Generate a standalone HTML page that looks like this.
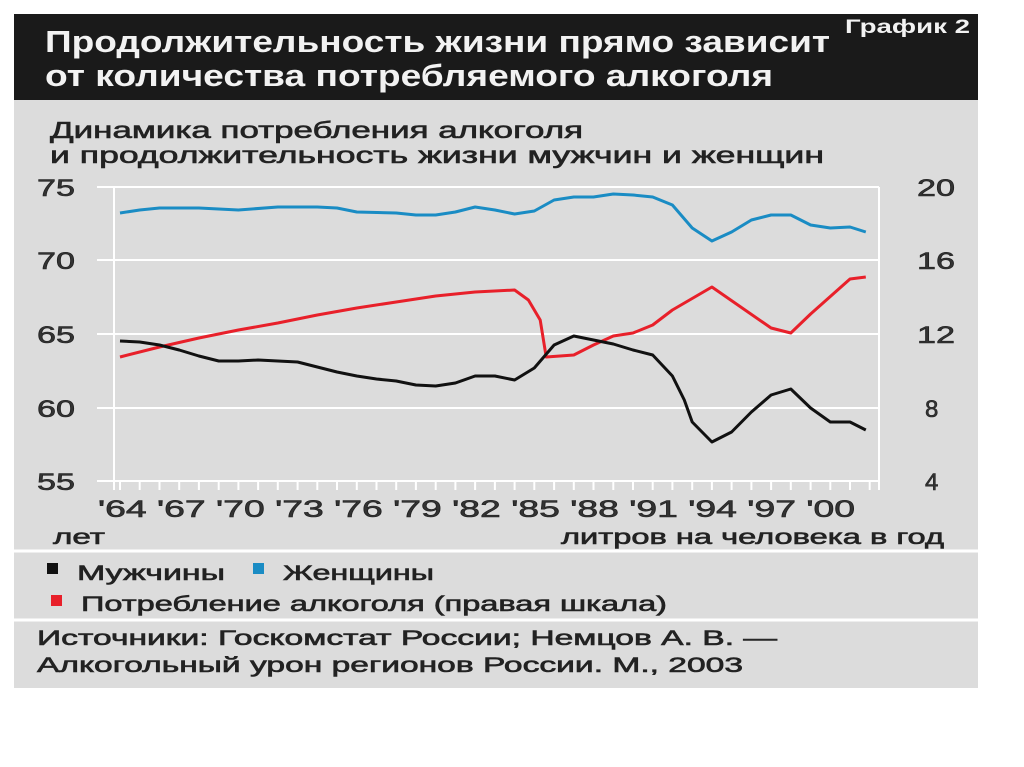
<!DOCTYPE html>
<html><head><meta charset="utf-8">
<style>
html,body{margin:0;padding:0;background:#fff;width:1024px;height:767px;overflow:hidden}
svg{display:block}
text{font-family:"Liberation Sans","DejaVu Sans",sans-serif}
.m{stroke:#222;stroke-width:0.6}
</style></head><body>
<svg id="s" width="1024" height="767" viewBox="0 0 1024 767" xmlns="http://www.w3.org/2000/svg">
<rect x="0" y="0" width="1024" height="767" fill="#fff"/>
<rect x="14" y="14" width="964" height="674" fill="#dcdcdc"/>
<rect x="14" y="14" width="964" height="86" fill="#1a1a1a"/>
<text x="45" y="52" font-size="31" font-weight="bold" fill="#f2f2f2" textLength="785" lengthAdjust="spacingAndGlyphs">Продолжительность жизни прямо зависит</text>
<text x="45" y="86" font-size="31" font-weight="bold" fill="#f2f2f2" textLength="728" lengthAdjust="spacingAndGlyphs">от количества потребляемого алкоголя</text>
<text x="845" y="33" font-size="19" font-weight="bold" fill="#f2f2f2" textLength="125" lengthAdjust="spacingAndGlyphs">График 2</text>
<g class="m">
<text x="50" y="138" font-size="23" fill="#222" textLength="533" lengthAdjust="spacingAndGlyphs">Динамика потребления алкоголя</text>
<text x="50" y="163" font-size="23" fill="#222" textLength="774" lengthAdjust="spacingAndGlyphs">и продолжительность жизни мужчин и женщин</text>
</g>
<g stroke="#fff" stroke-width="2">
<line x1="97" y1="187" x2="879" y2="187"/>
<line x1="97" y1="260" x2="879" y2="260"/>
<line x1="97" y1="334" x2="879" y2="334"/>
<line x1="97" y1="408" x2="879" y2="408"/>
<line x1="97" y1="481" x2="879" y2="481"/>
<line x1="114" y1="187" x2="114" y2="490"/>
<line x1="879" y1="187" x2="879" y2="490"/>
</g>
<g id="ticks" stroke="#fff" stroke-width="2"></g>
<g font-size="24" fill="#333" class="m">
<text x="37" y="196" textLength="38" lengthAdjust="spacingAndGlyphs">75</text>
<text x="37" y="269" textLength="38" lengthAdjust="spacingAndGlyphs">70</text>
<text x="37" y="343" textLength="38" lengthAdjust="spacingAndGlyphs">65</text>
<text x="37" y="417" textLength="38" lengthAdjust="spacingAndGlyphs">60</text>
<text x="37" y="490" textLength="38" lengthAdjust="spacingAndGlyphs">55</text>
<text x="917" y="196" textLength="38" lengthAdjust="spacingAndGlyphs">20</text>
<text x="917" y="269" textLength="38" lengthAdjust="spacingAndGlyphs">16</text>
<text x="917" y="343" textLength="38" lengthAdjust="spacingAndGlyphs">12</text>
<text x="925" y="417">8</text>
<text x="925" y="490">4</text>
<text x="98" y="517" textLength="757" lengthAdjust="spacingAndGlyphs">'64 '67 '70 '73 '76 '79 '82 '85 '88 '91 '94 '97 '00</text>
</g>
<g font-size="21" fill="#222" class="m">
<text x="53" y="544" textLength="52" lengthAdjust="spacingAndGlyphs">лет</text>
<text x="561" y="544" textLength="383" lengthAdjust="spacingAndGlyphs">литров на человека в год</text>
</g>
<line x1="14" y1="551" x2="978" y2="551" stroke="#fff" stroke-width="3"/>
<line x1="14" y1="620" x2="978" y2="620" stroke="#fff" stroke-width="3"/>
<rect x="47" y="563" width="11" height="11" fill="#111"/>
<rect x="253" y="563" width="11" height="11" fill="#1a8cc4"/>
<rect x="51" y="595" width="11" height="11" fill="#e8202a"/>
<g font-size="21" fill="#222" class="m">
<text x="77" y="580" textLength="148" lengthAdjust="spacingAndGlyphs">Мужчины</text>
<text x="283" y="580" textLength="151" lengthAdjust="spacingAndGlyphs">Женщины</text>
<text x="81" y="611" textLength="586" lengthAdjust="spacingAndGlyphs">Потребление алкоголя (правая шкала)</text>
<text x="37" y="645" textLength="740" lengthAdjust="spacingAndGlyphs">Источники: Госкомстат России; Немцов А. В. —</text>
<text x="37" y="672" textLength="706" lengthAdjust="spacingAndGlyphs">Алкогольный урон регионов России. М., 2003</text>
</g>
<path id="pb" fill="none" stroke="#1a8cc4" stroke-width="3" stroke-linejoin="round"/>
<path id="pr" fill="none" stroke="#e8202a" stroke-width="3" stroke-linejoin="round"/>
<path id="pk" fill="none" stroke="#111" stroke-width="3" stroke-linejoin="round"/>
</svg>
<script>
function X(y){return 120+19.73*(y-1964);}
function P(a){var d='';for(var i=0;i<a.length;i+=2){d+=(i?'L':'M')+X(a[i]).toFixed(1)+' '+a[i+1]+' ';}return d;}
var blue=[1964,213,1965,210,1966,208,1968,208,1970,210,1972,207,1974,207,1975,208,1976,212,1978,213,1979,215,1980,215,1981,212,1982,207,1983,210,1984,214,1985,211,1986,200,1987,197,1988,197,1989,194,1990,195,1991,197,1992,205,1993,228,1994,241,1995,232,1996,220,1997,215,1998,215,1999,225,2000,228,2001,227,2001.8,232];
var black=[1964,341,1965,342,1966,345,1967,350,1968,356,1969,361,1970,361,1971,360,1972,361,1973,362,1974,367,1975,372,1976,376,1977,379,1978,381,1979,385,1980,386,1981,383,1982,376,1983,376,1984,380,1985,368,1986,345,1987,336,1988,340,1989,344,1990,350,1991,355,1992,376,1992.6,400,1993,422,1994,442,1995,432,1996,412,1997,395,1998,389,1999,408,2000,422,2001,422,2001.8,430];
var red=[1964,357,1966,347,1968,338,1970,330,1972,323,1974,315,1976,308,1978,302,1980,296,1982,292,1984,290,1984.7,300,1985.3,320,1985.6,357,1987,355,1988,345,1989,336,1990,333,1991,325,1992,310,1994,287,1997,328,1998,333,1999,314,2001,279,2001.8,277];
document.getElementById('pb').setAttribute('d',P(blue));
document.getElementById('pk').setAttribute('d',P(black));
document.getElementById('pr').setAttribute('d',P(red));
var t='';for(var y=1964;y<=2002;y++){var x=X(y).toFixed(1);t+='<line x1="'+x+'" y1="482" x2="'+x+'" y2="490"/>';}
document.getElementById('ticks').innerHTML=t;
</script>
</body></html>
